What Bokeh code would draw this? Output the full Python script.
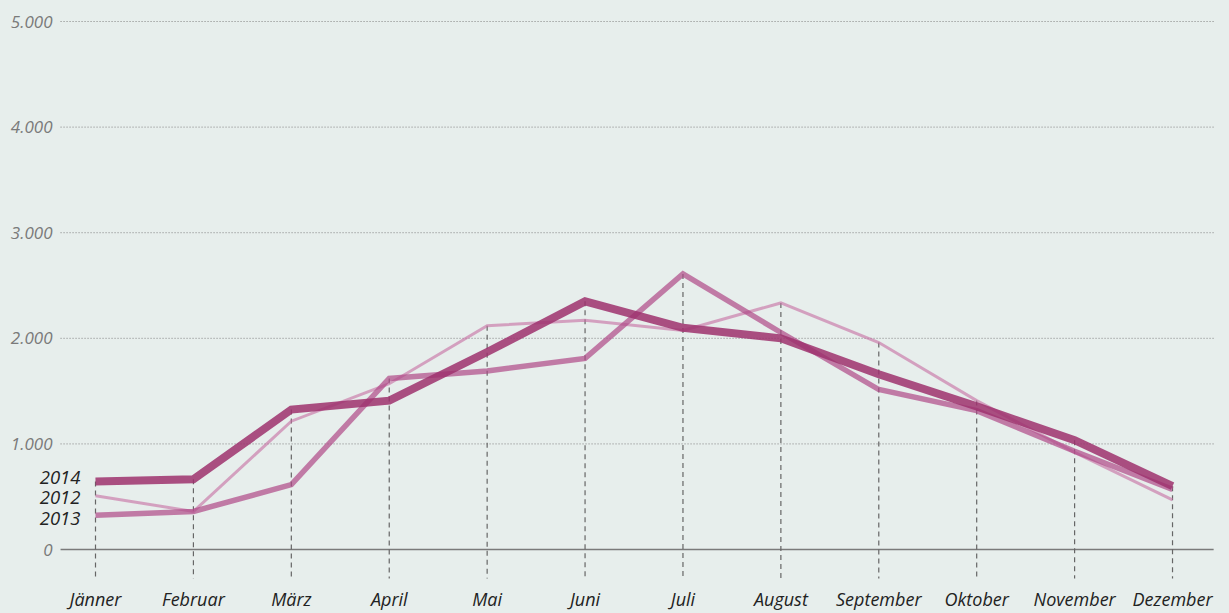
from bokeh.plotting import figure
from bokeh.models import Range1d
from bokeh.core.properties import value
from bokeh.embed import file_html
from bokeh.resources import INLINE

# ---- data ----
months = ["Jänner", "Februar", "März", "April", "Mai", "Juni", "Juli",
          "August", "September", "Oktober", "November", "Dezember"]
y2012 = [510, 360, 1215, 1570, 2120, 2170, 2075, 2335, 1960, 1410, 920, 470]
y2013 = [325, 360, 615, 1620, 1690, 1810, 2610, 2055, 1515, 1315, 930, 570]
y2014 = [645, 665, 1325, 1410, 1870, 2350, 2100, 2000, 1660, 1355, 1035, 600]
series_names = ["2012", "2013", "2014"]
y_ticks = [0, 1000, 2000, 3000, 4000, 5000]
y_tick_labels = ["0", "1.000", "2.000", "3.000", "4.000", "5.000"]

# ---- style ----
BG = "#e7eeec"
FONT = "Open Sans"
colors = {"2012": "#c76ca1", "2013": "#af4887", "2014": "#9d316d"}
alphas = {"2012": 0.6, "2013": 0.7, "2014": 0.85}
widths = {"2012": 3, "2013": 5.5, "2014": 8}

W, H = 1229, 613
xs = list(range(len(months)))
p = figure(width=W, height=H, output_backend="svg", toolbar_location=None,
           x_range=Range1d(-0.9703, 11.582), y_range=Range1d(-606, 5199),
           x_axis_location=None, y_axis_location=None, min_border=0)
p.min_border_left = p.min_border_right = p.min_border_top = p.min_border_bottom = 0
p.grid.visible = False
p.outline_line_color = None
p.background_fill_color = BG
p.border_fill_color = BG

gx0, gx1 = -0.357, 11.439
# dotted horizontal grid lines
grid_vals = [t for t in y_ticks if t > 0]
p.segment(x0=[gx0] * len(grid_vals), y0=grid_vals, x1=[gx1] * len(grid_vals), y1=grid_vals,
          line_color="#808080", line_width=1, line_dash="1 2")
# zero line
p.segment(x0=[gx0], y0=[0], x1=[11.42], y1=[0], line_color="#7a7a7a", line_width=1.3)

# dashed verticals from max value down below the axis
tops = [max(a, b, c) for a, b, c in zip(y2012, y2013, y2014)]
p.segment(x0=xs, y0=tops, x1=xs, y1=[-275] * len(xs),
          line_color="#666666", line_width=1.2, line_dash="5 4")

# series lines
data = {"2012": y2012, "2013": y2013, "2014": y2014}
for name in series_names:
    p.line(xs, data[name], line_color=colors[name], line_alpha=alphas[name],
           line_width=widths[name], line_join="miter")

# y tick labels
p.text(x=[gx0] * len(y_ticks), y=y_ticks, text=y_tick_labels, x_offset=-8,
       text_align="right", text_baseline="middle", text_font=value(FONT),
       text_font_style="italic", text_font_size="17px", text_color="#7a7a7a")

# month labels
p.text(x=xs, y=[-470] * len(xs), text=months, text_align="center",
       text_baseline="middle", text_font=value(FONT), text_font_style="italic",
       text_font_size="18px", text_color="#222222")

# series labels at the start of each line
lab_order = ["2014", "2012", "2013"]
lab_offsets = [-4, 2, 3]
p.text(x=[0] * 3, y=[data[n][0] for n in lab_order], text=lab_order,
       x_offset=-15, y_offset=lab_offsets, text_align="right", text_baseline="middle",
       text_font=value(FONT), text_font_style="italic", text_font_size="18.5px",
       text_color="#222222")

html = file_html(p, INLINE)
html = html.replace("</head>",
                    "<style>html,body{margin:0!important;padding:0;background:%s;overflow:hidden}</style></head>" % BG, 1)
open("out.html", "w").write(html)
